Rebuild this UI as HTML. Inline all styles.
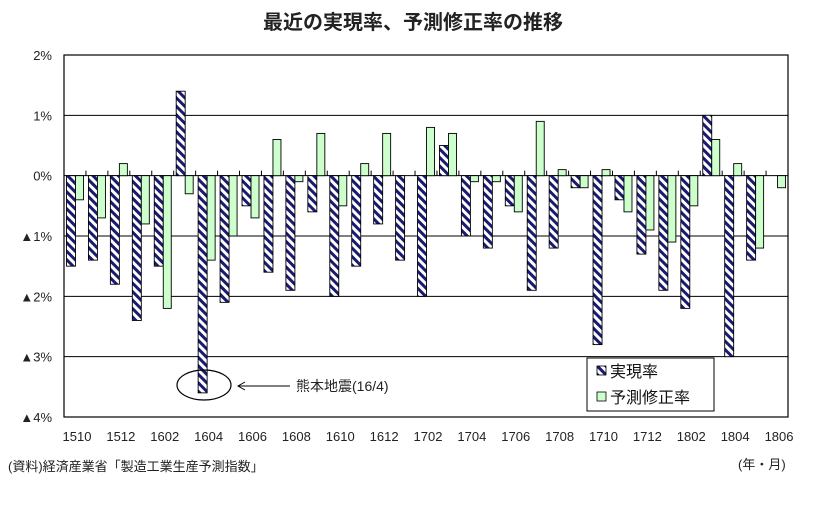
<!DOCTYPE html>
<html><head><meta charset="utf-8"><style>
body{margin:0;background:#fff;width:827px;height:517px;overflow:hidden;font-family:"Liberation Sans","Noto Sans CJK JP",sans-serif}
</style></head><body>
<svg id="c" width="827" height="517" xmlns="http://www.w3.org/2000/svg" font-family="Liberation Sans, Noto Sans CJK JP, sans-serif">
<defs>
<pattern id="hatch" patternUnits="userSpaceOnUse" width="6" height="6" patternTransform="rotate(-45)">
<rect width="6" height="6" fill="#fff"/><rect width="3" height="6" fill="#1a1a6e"/>
</pattern>
</defs>
<text x="413" y="29" text-anchor="middle" font-size="20" font-weight="bold" fill="#222">最近の実現率、予測修正率の推移</text>
<g id="grid"></g>
<g id="bars"></g>
<rect x="64" y="55" width="724" height="362" fill="none" stroke="#000" stroke-width="1.2"/>
<g id="ylab"></g><g id="xlab"></g>
<ellipse cx="204" cy="385" rx="27" ry="15" fill="none" stroke="#000" stroke-width="1.2"/>
<line x1="290" y1="386" x2="238" y2="386" stroke="#000"/>
<polyline points="245,382 238,386 245,390" fill="none" stroke="#000"/>
<text x="296" y="391" font-size="14" fill="#222">熊本地震(16/4)</text>
<g>
<rect x="587" y="358" width="127" height="53" fill="#fff" stroke="#000"/>
<rect x="597" y="366" width="9" height="9" fill="url(#hatch)" stroke="#000" stroke-width="0.8"/>
<text x="610" y="377" font-size="16" fill="#111">実現率</text>
<rect x="597" y="392" width="9" height="9" fill="#ccffcc" stroke="#000" stroke-width="0.8"/>
<text x="610" y="403" font-size="16" fill="#111">予測修正率</text>
</g>
<text x="8" y="471" font-size="13" fill="#222">(資料)経済産業省「製造工業生産予測指数」</text>
<text x="738" y="469" font-size="13" fill="#222">(年・月)</text>
</svg>
<script>
const categories=["1510","1511","1512","1601","1602","1603","1604","1605","1606","1607","1608","1609","1610","1611","1612","1701","1702","1703","1704","1705","1706","1707","1708","1709","1710","1711","1712","1801","1802","1803","1804","1805","1806"];
const actual=[-1.5,-1.4,-1.8,-2.4,-1.5,1.4,-3.6,-2.1,-0.5,-1.6,-1.9,-0.6,-2.0,-1.5,-0.8,-1.4,-2.0,0.5,-1.0,-1.2,-0.5,-1.9,-1.2,-0.2,-2.8,-0.4,-1.3,-1.9,-2.2,1.0,-3.0,-1.4,0];
const forecast=[-0.4,-0.7,0.2,-0.8,-2.2,-0.3,-1.4,-1.0,-0.7,0.6,-0.1,0.7,-0.5,0.2,0.7,0,0.8,0.7,-0.1,-0.1,-0.6,0.9,0.1,-0.2,0.1,-0.6,-0.9,-1.1,-0.5,0.6,0.2,-1.2,-0.2];
const yTicks=[2,1,0,-1,-2,-3,-4];
const yTickLabels=["2%","1%","0%","▲1%","▲2%","▲3%","▲4%"];
const NS="http://www.w3.org/2000/svg";
const X0=64,X1=788,Y0=55,Y1=417,YMAX=2,YMIN=-4;
const gw=(X1-X0)/categories.length;
const y=v=>Y0+(YMAX-v)/(YMAX-YMIN)*(Y1-Y0);
const x=i=>X0+i*gw;
function mk(t,a,p){const e=document.createElementNS(NS,t);for(const k in a)e.setAttribute(k,a[k]);document.getElementById(p).appendChild(e);return e;}
yTicks.forEach((t,i)=>{
 if(t!==YMAX&&t!==YMIN){const l=mk('line',{x1:X0,x2:X1,y1:y(t),y2:y(t),stroke:'#000','stroke-width':1},'grid');
 
 }
 const tx=mk('text',{x:52,y:y(t)+5,'text-anchor':'end','font-size':13,fill:'#222'},'ylab');
 tx.textContent=yTickLabels[i];
 
 
});
categories.forEach((c,i)=>{
 const tk=mk('line',{x1:x(i+1),x2:x(i+1),y1:y(0)-5,y2:y(0),stroke:'#000'},'grid');
 
 
 const a=actual[i],f=forecast[i];
 if(a!==0){const r=mk('rect',{x:x(i)+2.5,width:9,y:Math.min(y(a),y(0)),height:Math.abs(y(a)-y(0)),fill:'url(#hatch)',stroke:'#000','stroke-width':0.9},'bars');
 
 }
 if(f!==0){const r=mk('rect',{x:x(i)+11.5,width:8,y:Math.min(y(f),y(0)),height:Math.abs(y(f)-y(0)),fill:'#ccffcc',stroke:'#000','stroke-width':0.9},'bars');
 
 }
 if(i%2===0){const t=mk('text',{x:x(i)+gw/2+2,y:441,'text-anchor':'middle','font-size':13,fill:'#222'},'xlab');
 t.textContent=c;
 
 }
});
</script>
</body></html>
